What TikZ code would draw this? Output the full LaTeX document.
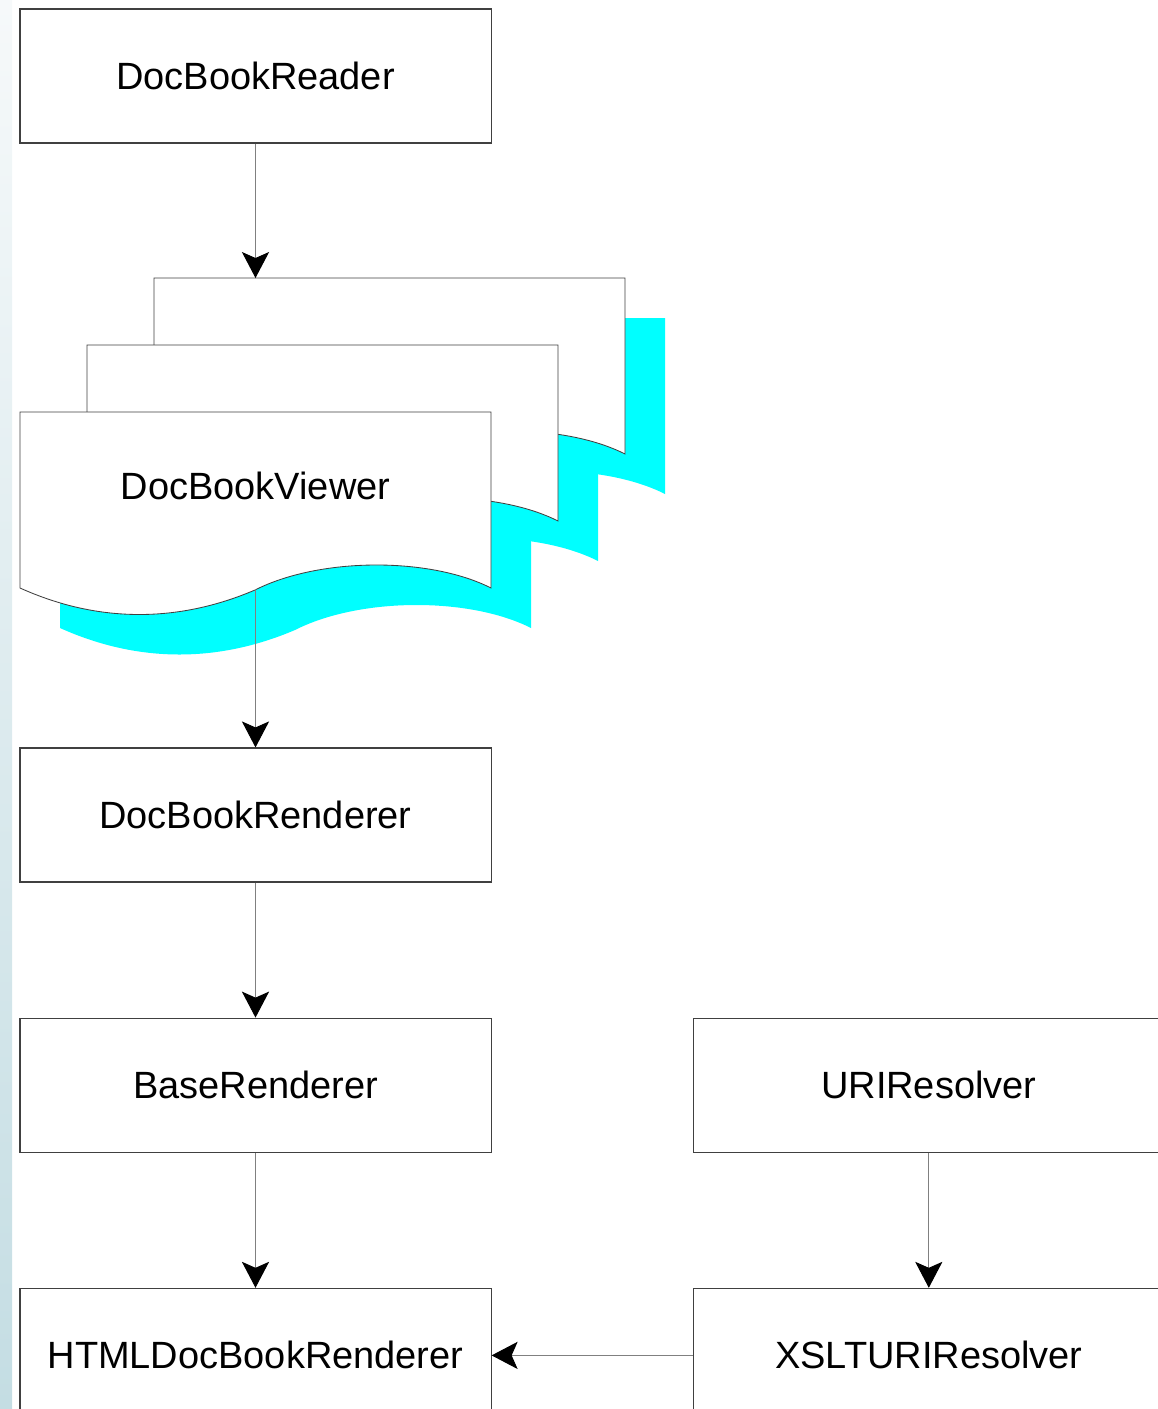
\documentclass[tikz,border=0pt]{standalone}
\usepackage{fontspec}
\setmainfont{Liberation Sans}
\usetikzlibrary{positioning,arrows.meta}

\definecolor{stripTop}{HTML}{F6F9FA}
\definecolor{stripBot}{HTML}{C4DDE3}
\definecolor{shadowcyan}{HTML}{00FFFF}

\begin{document}
\begin{tikzpicture}[x=0.025cm, y=-0.025cm,
    every node/.style={font=\fontsize{27}{31}\selectfont},
    box/.style={rectangle, draw=black!75, line width=0.8pt, fill=white,
        minimum width=11.775cm, minimum height=3.35cm, inner sep=0pt},
    link/.style={draw=black!50, line width=0.7pt,
        -{Stealth[length=0.65cm, width=0.68cm, inset=0.15cm, black]}}]
        \useasboundingbox (0,0) rectangle (1158,1409);
        \clip (0,0) rectangle (1158,1409);

        % pasek z lewej
        \shade[top color=stripTop, bottom color=stripBot] (0,0) rectangle (12,1409);

        % Kolumna lewa
        \node[box] (reader) at (255.5,76) {DocBookReader};
        \node[box] (renderer) at (255.5,815) {DocBookRenderer};
        \node[box, below=3.375cm of renderer] (base) {BaseRenderer};
        \node[box, below=3.375cm of base] (html) {HTMLDocBookRenderer};

        % Kolumna prawa
        \node[box, right=5.025cm of base] (uri) {URIResolver};
        \node[box, below=3.375cm of uri] (xslt) {XSLTURIResolver};

        % Stos dokumentow (cienie, potem kartki)
        \foreach \px/\py in {154/278, 87/345, 20/412} {
            \fill[shadowcyan, shift={(\px+40,\py+40)}] (0,0) -- (471,0) -- (471,176)
                .. controls (410,145) and (300,145) .. (235,178)
                .. controls (160,210) and (80,212) .. (0,176) -- cycle;
        }
        \foreach \px/\py in {154/278, 87/345, 20/412} {
            \filldraw[fill=white, draw=black!75, line width=0.6pt, shift={(\px,\py)}]
                (0,0) -- (471,0) -- (471,176)
                .. controls (410,145) and (300,145) .. (235,178)
                .. controls (160,210) and (80,212) .. (0,176) -- cycle;
        }
        \node (viewer) at (255.5,486) {DocBookViewer};
        \coordinate (stacktop) at (255.5,278);
        \coordinate (wavemid) at (255.5,589);

        \draw[link] (reader) -- (stacktop);
        \draw[link] (wavemid) -- (renderer);
        \draw[link] (renderer) -- (base);
        \draw[link] (base) -- (html);
        \draw[link] (uri) -- (xslt);
        \draw[link] (xslt) -- (html);
    \end{tikzpicture}
\end{document}
